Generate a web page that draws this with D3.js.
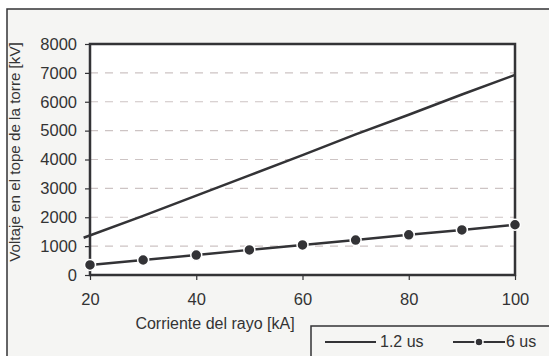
<!DOCTYPE html>
<html><head><meta charset="utf-8">
<script src="https://cdn.jsdelivr.net/npm/d3@7"></script>
<style>body{margin:0;background:#fff}svg{display:block;font-family:"Liberation Sans",Arial,sans-serif}</style>
</head><body>
<script>
const currents = [20, 30, 40, 50, 60, 70, 80, 90, 100];
const currents12 = [18.8, 30, 40, 50, 60, 70, 80, 90, 100];
const v12 = [1290, 2050, 2750, 3450, 4150, 4870, 5550, 6250, 6930];
const v6 = [350, 520, 690, 870, 1040, 1210, 1390, 1560, 1740];
const xTicks = [20, 40, 60, 80, 100];
const yTicks = [0, 1000, 2000, 3000, 4000, 5000, 6000, 7000, 8000];
const seriesNames = ["1.2 us", "6 us"];

const W = 549, H = 356;
const svg = d3.select("body").append("svg").attr("width", W).attr("height", H);
const ink = "#333336";
const txt = "#333";

svg.append("rect").attr("x", 7).attr("y", 9).attr("width", 560).attr("height", 360)
  .attr("fill", "#f5f5f3").attr("stroke", ink).attr("stroke-width", 1.5);

const L = 90, R = 515, T = 44, B = 275;
const x = d3.scaleLinear().domain([20, 100]).range([L, R]);
const y = d3.scaleLinear().domain([0, 8000]).range([B, T]);

svg.append("rect").attr("x", L).attr("y", T).attr("width", R - L).attr("height", B - T).attr("fill", "#fff");

// gridlines
svg.append("g").selectAll("line").data(yTicks.filter(d => d > 0 && d < 8000)).join("line")
  .attr("x1", L).attr("x2", R).attr("y1", d => y(d)).attr("y2", d => y(d))
  .attr("stroke", "#cdc4c4").attr("stroke-width", 1.2).attr("stroke-dasharray", "8,7");

// axes
const xAxis = svg.append("g").attr("transform", `translate(0,${B})`)
  .call(d3.axisBottom(x).tickValues(xTicks).tickSize(5).tickPadding(13).tickFormat(d3.format("d")));
const yAxis = svg.append("g").attr("transform", `translate(${L},0)`)
  .call(d3.axisLeft(y).tickValues(yTicks).tickSize(5).tickPadding(8).tickFormat(d3.format("d")));
[xAxis, yAxis].forEach(a => {
  a.select(".domain").remove();
  a.selectAll("line").attr("stroke", ink).attr("stroke-width", 1.2);
  a.selectAll("text").attr("fill", txt).attr("font-size", 16.5)
   .attr("font-family", '"Liberation Sans",Arial,sans-serif');
});

// frame
svg.append("rect").attr("x", L).attr("y", T).attr("width", R - L).attr("height", B - T)
  .attr("fill", "none").attr("stroke", ink).attr("stroke-width", 2.5);

// series
const line12 = d3.line().x((d, i) => x(currents12[i])).y(d => y(d));
const line6 = d3.line().x((d, i) => x(currents[i])).y(d => y(d));
svg.append("path").datum(v12).attr("d", line12).attr("fill", "none")
  .attr("stroke", ink).attr("stroke-width", 2.5);
svg.append("path").datum(v6).attr("d", line6).attr("fill", "none")
  .attr("stroke", ink).attr("stroke-width", 2.5);
svg.append("g").selectAll("circle").data(v6).join("circle")
  .attr("cx", (d, i) => x(currents[i])).attr("cy", d => y(d)).attr("r", 5.5)
  .attr("fill", ink).attr("stroke", "#fff").attr("stroke-width", 1.5);

// axis titles
svg.append("text").attr("x", 215).attr("y", 329).attr("text-anchor", "middle")
  .attr("font-size", 16).attr("fill", txt).text("Corriente del rayo [kA]");
svg.append("text").attr("transform", "translate(20,152) rotate(-90)").attr("text-anchor", "middle")
  .attr("font-size", 15.2).attr("fill", txt).text("Voltaje en el tope de la torre [kV]");

// legend
svg.append("rect").attr("x", 311).attr("y", 326).attr("width", 260).attr("height", 60)
  .attr("fill", "#f5f5f3").attr("stroke", ink).attr("stroke-width", 1.5);
const lg = svg.append("g");
lg.append("line").attr("x1", 325).attr("x2", 376).attr("y1", 342).attr("y2", 342)
  .attr("stroke", ink).attr("stroke-width", 2);
lg.append("text").attr("x", 380).attr("y", 347).attr("font-size", 16).attr("fill", txt).text(seriesNames[0]);
lg.append("line").attr("x1", 453).attr("x2", 505).attr("y1", 342).attr("y2", 342)
  .attr("stroke", ink).attr("stroke-width", 2);
lg.append("circle").attr("cx", 479).attr("cy", 342).attr("r", 4).attr("fill", ink)
  .attr("stroke", "#fff").attr("stroke-width", 1.5);
lg.append("text").attr("x", 506).attr("y", 347).attr("font-size", 16).attr("fill", txt).text(seriesNames[1]);
</script>
</body></html>
